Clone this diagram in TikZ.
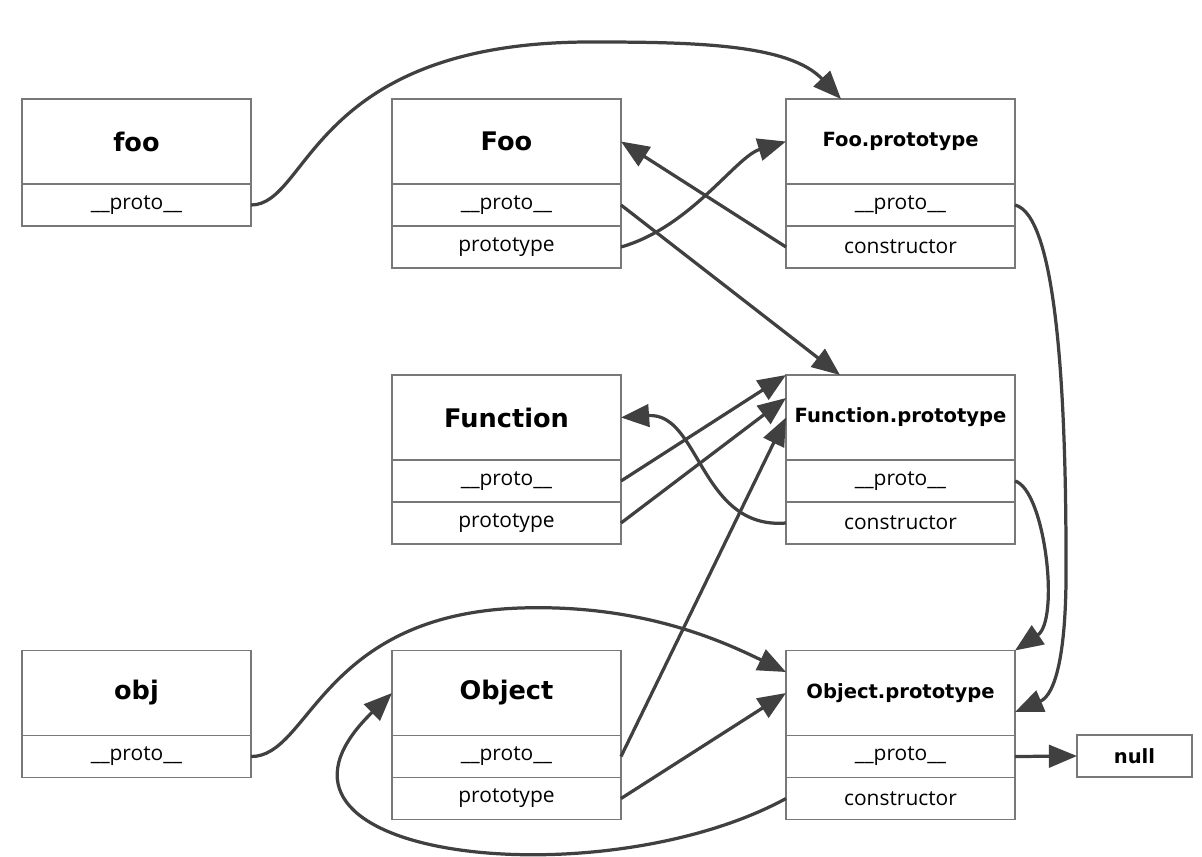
\documentclass[tikz,border=0pt]{standalone}
\usepackage{fontspec}
\setmainfont{Open Sans}
\newfontfamily\hdfont{DejaVu Sans}
\usetikzlibrary{positioning,arrows.meta}
\definecolor{boxgray}{RGB}{120,120,120}
\definecolor{linkgray}{RGB}{64,64,64}
\newcommand{\pxu}{0.025cm}
\newcommand{\proto}{\_\_proto\_\_}

\begin{document}
\begin{tikzpicture}[x=\pxu,y=-\pxu]
    \tikzstyle{box}=[draw=boxgray,line width=1pt,outer sep=0pt,inner sep=0pt,minimum width=229*\pxu]
    \tikzstyle{head}=[box,minimum height=85*\pxu,font=\hdfont\bfseries\fontsize{18.2}{20}\selectfont]
    \tikzstyle{phead}=[head,font=\hdfont\bfseries\fontsize{13.9}{16}\selectfont]
    \tikzstyle{slot}=[box,minimum height=42*\pxu,font=\fontsize{14.9}{16}\selectfont]
    \tikzstyle{link}=[draw=linkgray,line width=2.3pt,-{Triangle[length=20pt,width=16pt]}]
    \useasboundingbox (0,0) rectangle (1202,856);

    \node[head] (fooH) at (136.5,141.5) {foo};
    \node[slot,below=0pt of fooH] (fooP) {\proto};

    \node[head] (FooH) at (506.5,141.5) {Foo};
    \node[slot,below=0pt of FooH] (FooP) {\proto};
    \node[slot,below=0pt of FooP] (FooR) {prototype};

    \node[phead] (FooPh) at (900.5,141.5) {Foo.prototype};
    \node[slot,below=0pt of FooPh] (FooPP) {\proto};
    \node[slot,below=0pt of FooPP] (FooC) {constructor};

    \node[head] (FunH) at (506.5,417.5) {Function};
    \node[slot,below=0pt of FunH] (FunP) {\proto};
    \node[slot,below=0pt of FunP] (FunR) {prototype};

    \node[phead] (FunPh) at (900.5,417.5) {Function.prototype};
    \node[slot,below=0pt of FunPh] (FunPP) {\proto};
    \node[slot,below=0pt of FunPP] (FunC) {constructor};

    \node[head] (objH) at (136.5,693) {obj};
    \node[slot,below=0pt of objH] (objP) {\proto};

    \node[head] (ObjH) at (506.5,693) {Object};
    \node[slot,below=0pt of ObjH] (ObjP) {\proto};
    \node[slot,below=0pt of ObjP] (ObjR) {prototype};

    \node[phead] (ObjPh) at (900.5,693) {Object.prototype};
    \node[slot,below=0pt of ObjPh] (ObjPP) {\proto};
    \node[slot,below=0pt of ObjPP] (ObjC) {constructor};

    \node[phead,minimum width=115*\pxu,minimum height=42*\pxu] (null) at (1134.5,756) {null};

    \draw[link] (fooP.east) .. controls (310,205) and (310,40) .. (596,42) .. controls (700,42) and (790,45) .. ([xshift=-59.5*\pxu]FooPh.north);
    \draw[link] (FooP.east) -- ([xshift=54*\pxu]FunPh.north west);
    \draw[link] (FooR.east) .. controls +(70,-20) and +(-50,15) .. (FooPh.west);
    \draw[link] (FooC.west) -- (FooH.east);
    \draw[link] (FooPP.east) .. controls (1055,215) and (1066,380) .. (1066,560) .. controls (1067,655) and (1055,695) .. ([yshift=-19*\pxu]ObjPh.east);
    \draw[link] (FunP.east) -- (FunPh.north west);
    \draw[link] (FunR.east) -- ([yshift=19.5*\pxu]FunPh.west);
    \draw[link] (FunC.west) .. controls (700,530) and (700,412) .. (FunH.east);
    \draw[link] (FunPP.east) .. controls (1045,490) and (1060,620) .. (ObjPh.north east);
    \draw[link] (objP.east) .. controls (310,757) and (320,615) .. (520,608) .. controls (640,604) and (720,640) .. ([yshift=21*\pxu]ObjPh.west);
    \draw[link] (ObjP.east) -- (FunPh.west);
    \draw[link] (ObjR.east) -- (ObjPh.west);
    \draw[link] (ObjC.west) .. controls (600,900) and (220,860) .. (ObjH.west);
    \draw[link] (ObjPP.east) -- (null.west);
\end{tikzpicture}
\end{document}
